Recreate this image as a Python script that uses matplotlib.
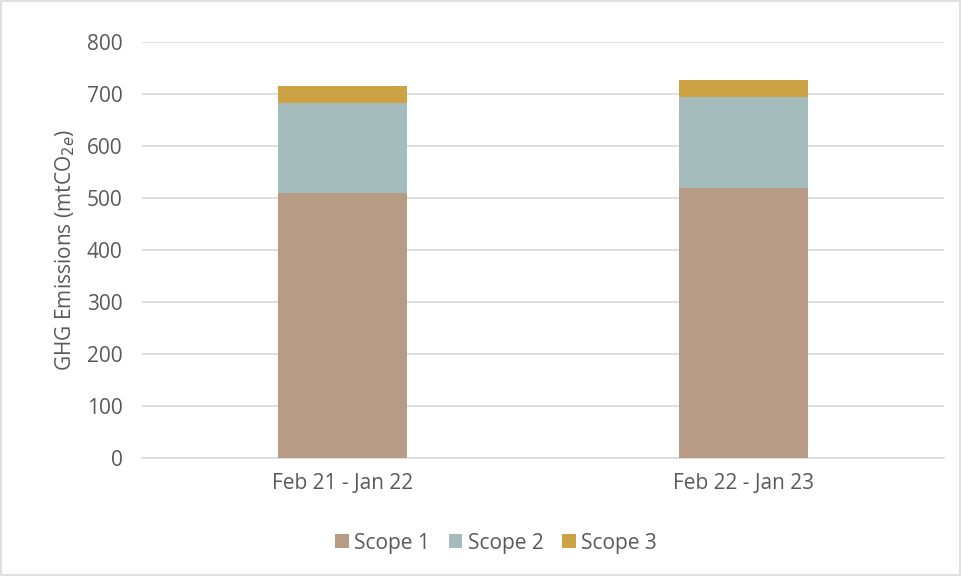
import matplotlib
matplotlib.use("Agg")
import matplotlib.pyplot as plt
from matplotlib.patches import Rectangle

categories = ["Feb 21 - Jan 22", "Feb 22 - Jan 23"]
scope1 = [510, 520]
scope2 = [172, 175]
scope3 = [33, 31]
series_names = ["Scope 1", "Scope 2", "Scope 3"]
colors = ["#B89B84", "#A5BCBC", "#CDA244"]
yticks = [0, 100, 200, 300, 400, 500, 600, 700, 800]

plt.rcParams['font.family'] = ['Open Sans', 'DejaVu Sans']
text_color = "#595959"
fs = 15

fig = plt.figure(figsize=(9.62, 5.76), dpi=100)
ax = fig.add_axes([142/962, 1-458/576, (944-142)/962, (458-42)/576])

x = list(range(len(categories)))
w = 0.32
b1 = ax.bar(x, scope1, width=w, color=colors[0], label=series_names[0], zorder=3)
bottom2 = scope1
b2 = ax.bar(x, scope2, width=w, bottom=bottom2, color=colors[1], label=series_names[1], zorder=3)
bottom3 = [a + b for a, b in zip(scope1, scope2)]
b3 = ax.bar(x, scope3, width=w, bottom=bottom3, color=colors[2], label=series_names[2], zorder=3)

ax.set_xlim(-0.5, 1.5)
ax.set_ylim(0, 800)
ax.set_yticks(yticks)
ax.set_xticks(x)
ax.set_xticklabels(categories)
ax.grid(axis='y', color='#D9D9D9', linewidth=1.2, zorder=0)
for s in ['left', 'right', 'top']:
    ax.spines[s].set_visible(False)
ax.spines['bottom'].set_color('#D9D9D9')
ax.spines['bottom'].set_linewidth(1.2)
ax.tick_params(axis='both', length=0, colors=text_color, labelsize=fs)
ax.tick_params(axis='y', pad=14)
ax.tick_params(axis='x', pad=11)
ax.set_ylabel("GHG Emissions (mtCO$_{2e}$)", color=text_color, fontsize=fs, labelpad=7)

fig.legend(handles=[b1, b2, b3], labels=series_names, loc='center', bbox_to_anchor=(496/962, 1-543/576),
           ncol=3, frameon=False, fontsize=fs, labelcolor=text_color,
           handlelength=0.65, handleheight=0.65, handletextpad=0.25, columnspacing=0.9)

fig.patches.append(Rectangle((0.001, 0.001), 0.997, 0.997, transform=fig.transFigure,
                             fill=False, edgecolor='#D9D9D9', linewidth=1.2))

fig.savefig("out.png", dpi=100)
